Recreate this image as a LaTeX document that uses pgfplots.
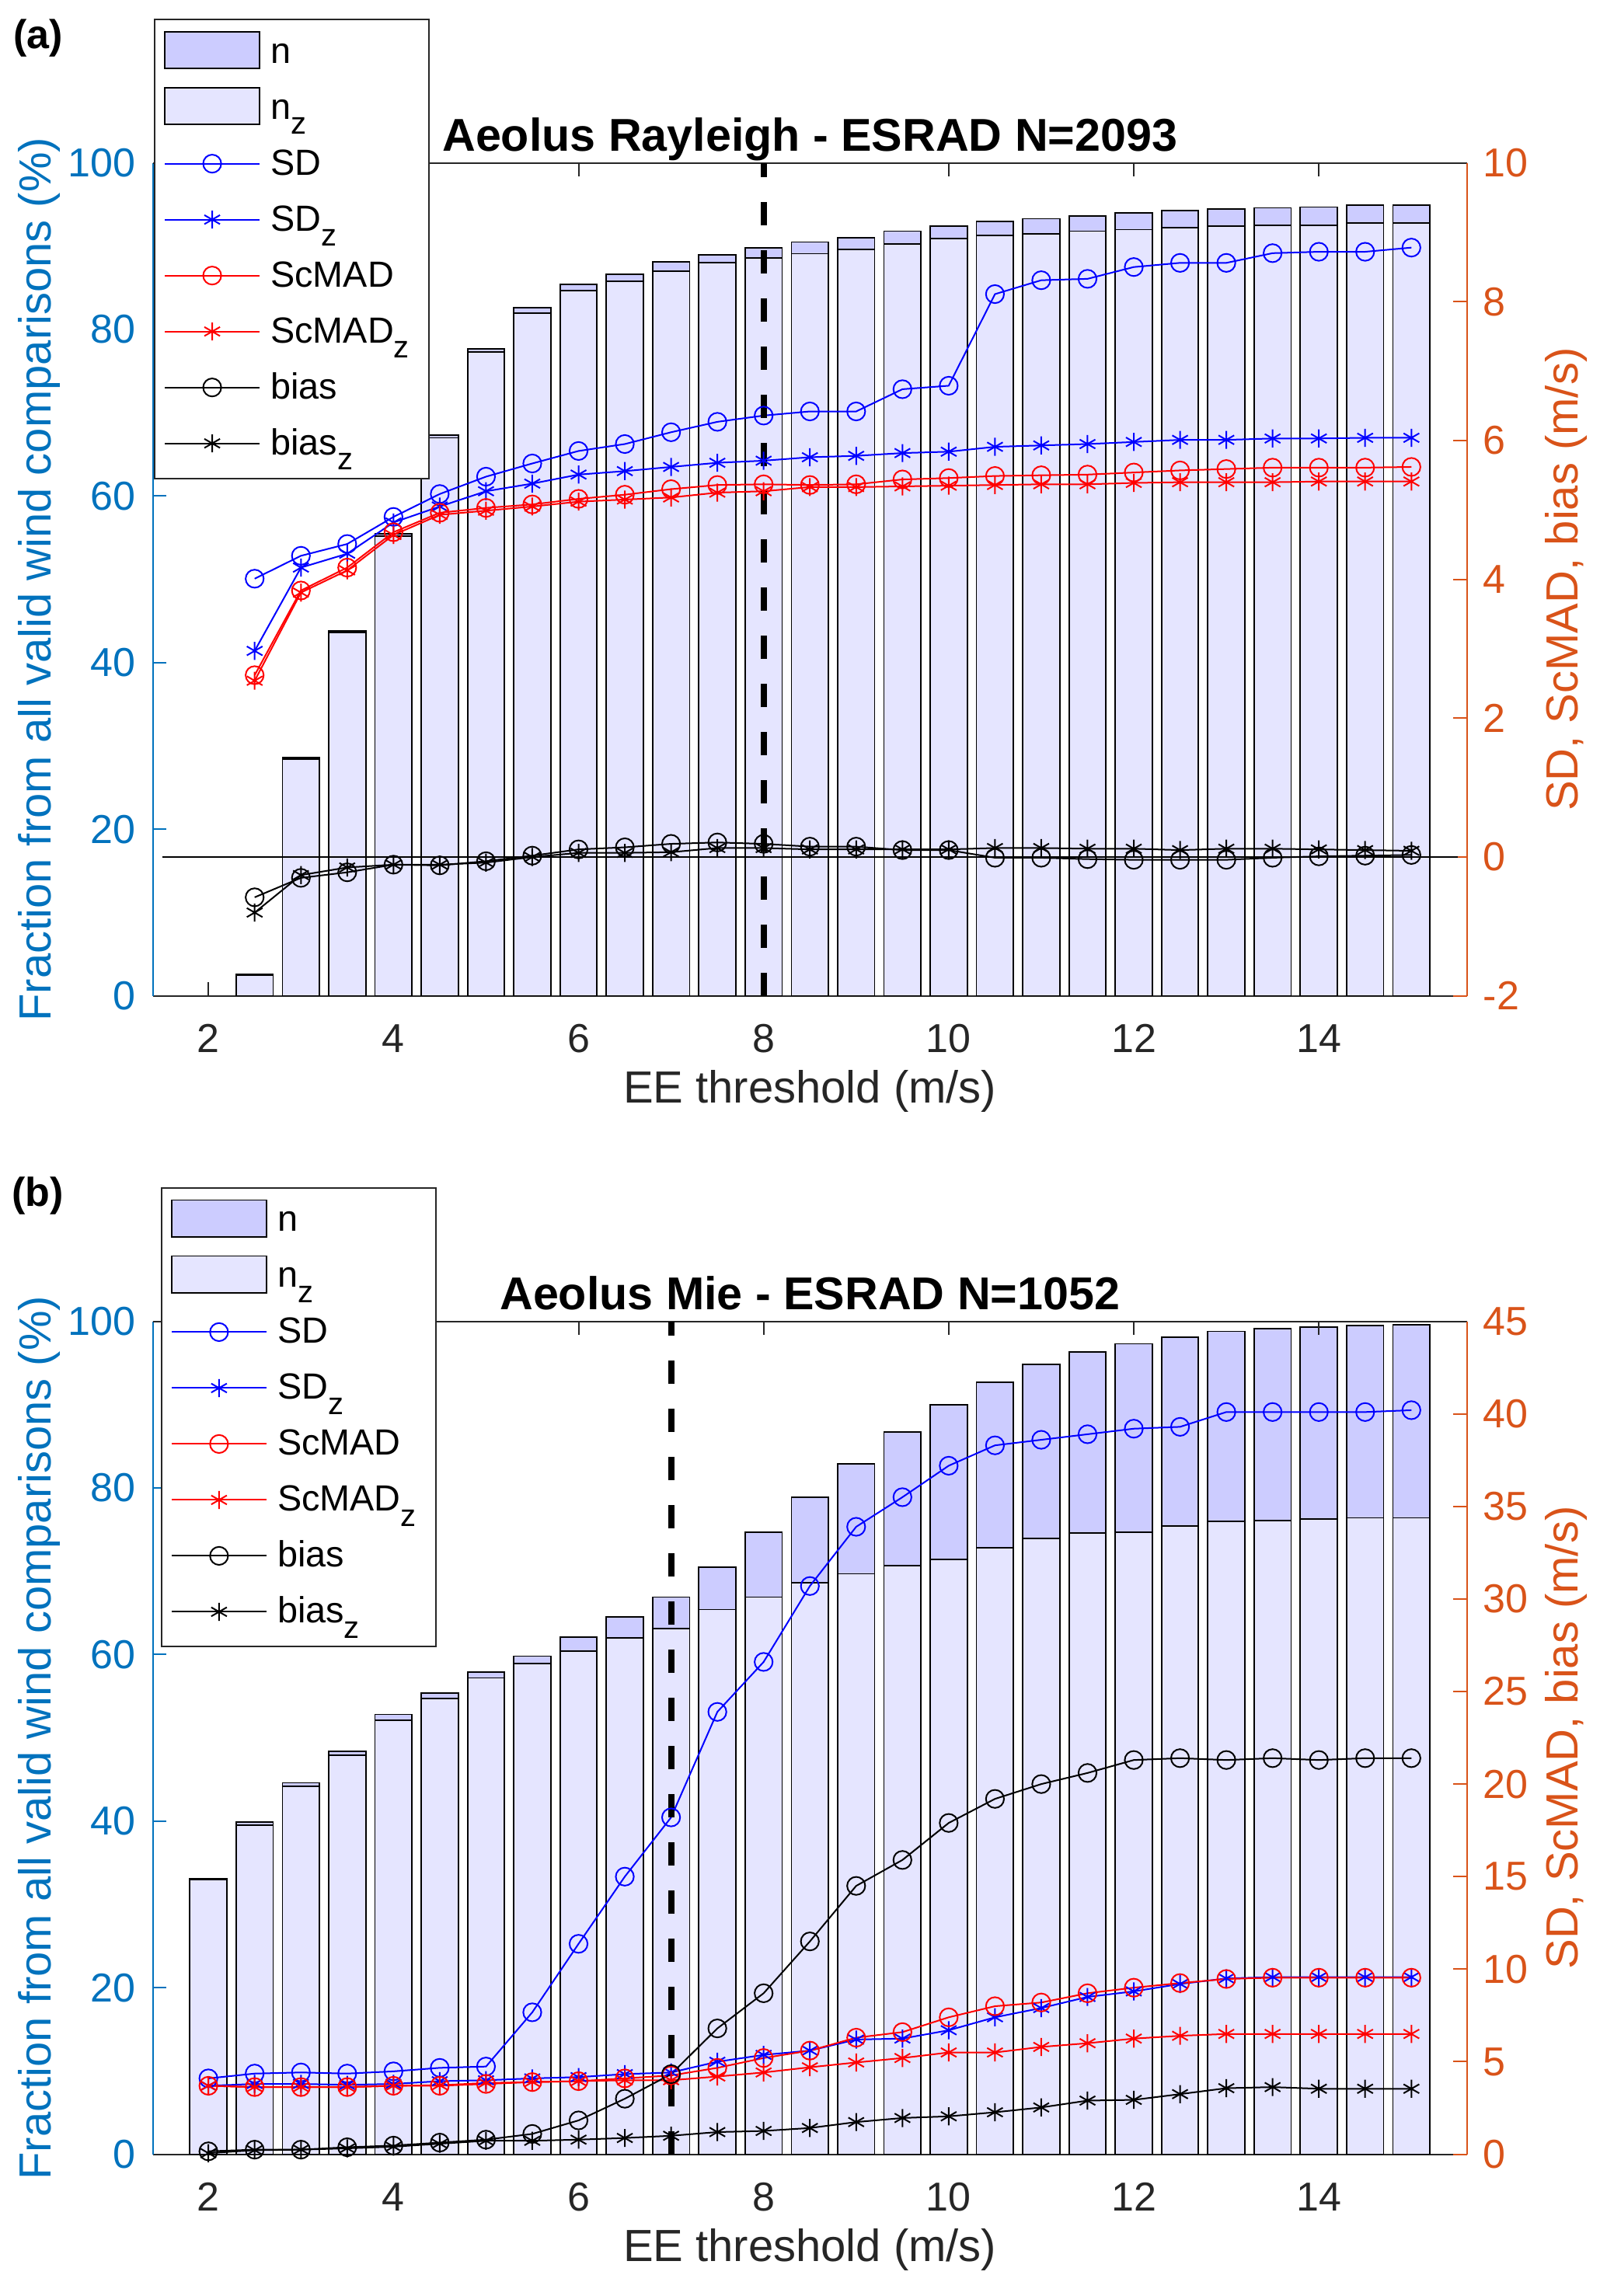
\documentclass[border=0pt]{standalone}
\usepackage{fontspec}
\setmainfont{Liberation Sans}
\usepackage{pgfplots}
\pgfplotsset{compat=1.18}
\usepackage{pgfplotstable}
\definecolor{leftc}{rgb}{0,0.447,0.741}
\definecolor{rightc}{rgb}{0.85,0.325,0.098}
\definecolor{axgray}{rgb}{0.15,0.15,0.15}
\definecolor{nfill}{rgb}{0.8,0.8,1}
\definecolor{nzfill}{rgb}{0.9,0.9,1}

\pgfplotstableread{
x n nz
2.5 2.55 2.45
3 28.6 28.4
3.5 43.8 43.6
4 55.5 55.2
4.5 67.3 67.0
5 77.7 77.3
5.5 82.6 82.0
6 85.4 84.7
6.5 86.6 85.8
7 88.1 87.0
7.5 89.0 88.0
8 89.8 88.6
8.5 90.5 89.1
9 91.0 89.6
9.5 91.8 90.3
10 92.4 90.9
10.5 93.0 91.3
11 93.3 91.5
11.5 93.6 91.8
12 94.0 92.0
12.5 94.3 92.2
13 94.5 92.4
13.5 94.6 92.5
14 94.7 92.5
14.5 94.9 92.8
15 94.9 92.8
}\barsA

\pgfplotstableread{
x sd sdz sc scz b bz
2.5 4.01 2.97 2.62 2.54 -0.58 -0.80
3 4.34 4.17 3.84 3.81 -0.30 -0.26
3.5 4.51 4.37 4.17 4.13 -0.22 -0.15
4 4.90 4.82 4.68 4.64 -0.11 -0.11
4.5 5.23 5.05 4.96 4.93 -0.12 -0.11
5 5.48 5.27 5.03 4.99 -0.06 -0.08
5.5 5.67 5.38 5.08 5.05 0.02 0.00
6 5.85 5.51 5.16 5.12 0.11 0.06
6.5 5.95 5.56 5.22 5.15 0.14 0.06
7 6.12 5.62 5.30 5.18 0.19 0.07
7.5 6.27 5.68 5.36 5.25 0.21 0.13
8 6.36 5.71 5.37 5.27 0.19 0.13
8.5 6.42 5.76 5.36 5.33 0.15 0.11
9 6.42 5.78 5.37 5.33 0.15 0.11
9.5 6.74 5.82 5.44 5.34 0.10 0.11
10 6.79 5.84 5.46 5.35 0.10 0.11
10.5 8.11 5.91 5.49 5.36 -0.01 0.13
11 8.31 5.93 5.50 5.37 -0.01 0.13
11.5 8.33 5.95 5.51 5.37 -0.03 0.12
12 8.50 5.98 5.54 5.39 -0.04 0.12
12.5 8.56 6.01 5.57 5.40 -0.04 0.10
13 8.56 6.01 5.59 5.40 -0.04 0.12
13.5 8.70 6.03 5.61 5.40 -0.01 0.12
14 8.72 6.03 5.61 5.41 0.01 0.11
14.5 8.72 6.04 5.61 5.41 0.02 0.10
15 8.78 6.04 5.62 5.41 0.03 0.09
}\linesA

\pgfplotstableread{
x n nz
2 33.1 33.0
2.5 39.9 39.5
3 44.6 44.2
3.5 48.4 47.9
4 52.8 52.1
4.5 55.4 54.7
5 57.9 57.2
5.5 59.8 58.9
6 62.1 60.4
6.5 64.5 62.0
7 66.9 63.1
7.5 70.5 65.4
8 74.7 66.9
8.5 78.9 68.6
9 82.9 69.7
9.5 86.7 70.7
10 90.0 71.4
10.5 92.7 72.8
11 94.8 73.9
11.5 96.3 74.6
12 97.3 74.7
12.5 98.1 75.4
13 98.8 76.0
13.5 99.1 76.1
14 99.3 76.3
14.5 99.5 76.4
15 99.6 76.4
}\barsB

\pgfplotstableread{
x sd sdz sc scz b bz
2 4.10 3.70 3.70 3.70 0.16 0.06
2.5 4.36 3.80 3.63 3.63 0.25 0.22
3 4.42 3.80 3.63 3.63 0.25 0.25
3.5 4.36 3.75 3.63 3.63 0.38 0.32
4 4.48 3.80 3.70 3.70 0.47 0.41
4.5 4.67 3.95 3.70 3.73 0.63 0.57
5 4.74 4.00 3.80 3.85 0.79 0.73
5.5 7.67 4.10 3.90 3.90 1.10 0.73
6 11.37 4.17 3.95 3.95 1.83 0.79
6.5 15.00 4.33 4.10 4.00 3.00 0.88
7 18.20 4.42 4.26 4.00 4.33 1.00
7.5 23.90 5.00 4.67 4.20 6.80 1.20
8 26.60 5.37 5.20 4.42 8.70 1.26
8.5 30.70 5.60 5.60 4.70 11.50 1.42
9 33.90 6.20 6.30 4.96 14.50 1.74
9.5 35.50 6.25 6.60 5.20 15.90 1.96
10 37.20 6.70 7.40 5.50 17.90 2.05
10.5 38.30 7.40 8.00 5.50 19.20 2.27
11 38.60 7.90 8.20 5.80 20.00 2.53
11.5 38.90 8.50 8.70 6.00 20.60 2.90
12 39.20 8.80 9.00 6.25 21.30 2.94
12.5 39.30 9.20 9.25 6.40 21.40 3.25
13 40.10 9.50 9.47 6.50 21.30 3.57
13.5 40.10 9.57 9.54 6.50 21.40 3.63
14 40.10 9.57 9.54 6.50 21.30 3.54
14.5 40.10 9.57 9.54 6.50 21.40 3.54
15 40.20 9.57 9.54 6.50 21.40 3.54
}\linesB

\newcommand{\zs}{\raisebox{-4.8pt}{\fontsize{10}{10}\selectfont z}}

\pgfplotsset{
  base/.style={
    scale only axis, width=422.75pt, height=268pt,
    xmin=1.4, xmax=15.6, xtick={2,4,...,14},
    tick align=inside, major tick length=4.4pt,
    /pgf/number format/assume math mode=true,
    tick label style={font=\fontsize{13}{13}\selectfont},
    label style={font=\fontsize{14.5}{14.5}\selectfont},
    every tick/.append style={line width=0.5pt},
    axis line style={line width=0.5pt},
  },
  leftax/.style={
    base, axis y line*=left, axis x line*=bottom,
    ymin=0, ymax=100, ytick={0,20,...,100},
    y axis line style={leftc,-}, ytick style={leftc},
    yticklabel style={leftc, anchor=east, inner sep=0pt, xshift=-5.4pt},
    x axis line style={axgray,-}, xtick style={axgray},
    xticklabel style={axgray, anchor=base, inner sep=0pt, yshift=-18.25pt},
    ylabel={Fraction from all valid wind comparisons (\%)},
    ylabel style={leftc, at={(axis description cs:-0.0775,0.5)}, anchor=base},
    xlabel={EE threshold (m/s)},
    xlabel style={axgray, at={(axis description cs:0.5,-0.1287)}, anchor=base},
  },
  rightax/.style={
    base, axis y line*=right, axis x line*=top,
    xticklabels={}, xtick style={axgray}, x axis line style={axgray,-},
    y axis line style={rightc,-}, ytick style={rightc},
    yticklabel style={rightc, anchor=west, inner sep=0pt, xshift=5.1pt},
    ylabel={SD, ScMAD, bias (m/s)},
    ylabel style={rightc, at={(axis description cs:1.0842,0.5)}, anchor=base},
    title style={at={(axis description cs:0.5,0.9916)}, anchor=base, font=\bfseries\fontsize{14.8}{14.8}\selectfont},
    legend cell align=left,
    legend image code/.code={\draw[mark repeat=2,mark phase=2] plot coordinates {(0pt,3.6pt) (15.25pt,3.6pt) (30.5pt,3.6pt)};},
    legend style={anchor=north west, draw=axgray, line width=0.5pt, fill=white,
      font=\fontsize{11.7}{11.7}\selectfont, inner xsep=3pt, inner ysep=2.8pt, row sep=2.05pt,
      nodes={inner xsep=3.3pt, inner ysep=1pt, text height=10.1pt, text depth=3.85pt, anchor=base west}},
  },
  barn/.style={ybar, bar width=0.4, bar shift=0pt, fill=nfill, draw=black, line width=0.45pt},
  barnz/.style={ybar, bar width=0.4, bar shift=0pt, fill=nzfill, draw=black, line width=0.45pt},
  pc/.style={line width=0.5pt, mark=o, mark size=2.9pt, mark options={solid}},
  ps/.style={line width=0.5pt, mark=asterisk, mark size=2.9pt, mark options={solid}},
  patchn/.style={fill=nfill, draw=black, line width=0.45pt, legend image code/.code={\draw[##1] (0pt,-1.7pt) rectangle (30.5pt,10.1pt);}},
  patchnz/.style={fill=nzfill, draw=black, line width=0.45pt, legend image code/.code={\draw[##1] (0pt,-1.7pt) rectangle (30.5pt,10.1pt);}},
}

\begin{document}
\begin{tikzpicture}
\path[use as bounding box] (0,0) rectangle (516.75pt,738.75pt);

% ---------- panel (a) ----------
\begin{axis}[leftax, at={(49.18pt,418.32pt)}, anchor=south west]
\addplot[barn] table[x=x,y=n] {\barsA};
\addplot[barnz] table[x=x,y=nz] {\barsA};
\end{axis}
\begin{axis}[rightax, at={(49.18pt,418.32pt)}, anchor=south west,
  ymin=-2, ymax=10, ytick={-2,0,...,10},
  title={Aeolus Rayleigh - ESRAD N=2093},
  legend style={at={(axis description cs:0.0008,1.1728)}}]
\addlegendimage{patchn}\addlegendentry{n}
\addlegendimage{patchnz}\addlegendentry{n\zs}
\addplot[black, line width=0.5pt, forget plot] coordinates {(1.5,0) (15.5,0)};
\addplot[blue, pc] table[x=x,y=sd] {\linesA}; \addlegendentry{SD}
\addplot[blue, ps] table[x=x,y=sdz] {\linesA}; \addlegendentry{SD\zs}
\addplot[red, pc] table[x=x,y=sc] {\linesA}; \addlegendentry{ScMAD}
\addplot[red, ps] table[x=x,y=scz] {\linesA}; \addlegendentry{ScMAD\zs}
\addplot[black, pc] table[x=x,y=b] {\linesA}; \addlegendentry{bias}
\addplot[black, ps] table[x=x,y=bz] {\linesA}; \addlegendentry{bias\zs}
\addplot[black, line width=2pt, dash pattern=on 7.5pt off 8pt, forget plot] coordinates {(8,-2) (8,10)};
\end{axis}
\node at (12.2pt,726.5pt) {\bfseries\fontsize{13}{13}\selectfont (a)};

% ---------- panel (b) ----------
\begin{axis}[leftax, at={(49.18pt,45.6pt)}, anchor=south west]
\addplot[barn] table[x=x,y=n] {\barsB};
\addplot[barnz] table[x=x,y=nz] {\barsB};
\end{axis}
\begin{axis}[rightax, at={(49.18pt,45.6pt)}, anchor=south west,
  ymin=0, ymax=45, ytick={0,5,...,45},
  title={Aeolus Mie - ESRAD N=1052},
  legend style={at={(axis description cs:0.006,1.1608)}}]
\addlegendimage{patchn}\addlegendentry{n}
\addlegendimage{patchnz}\addlegendentry{n\zs}
\addplot[blue, pc] table[x=x,y=sd] {\linesB}; \addlegendentry{SD}
\addplot[blue, ps] table[x=x,y=sdz] {\linesB}; \addlegendentry{SD\zs}
\addplot[red, pc] table[x=x,y=sc] {\linesB}; \addlegendentry{ScMAD}
\addplot[red, ps] table[x=x,y=scz] {\linesB}; \addlegendentry{ScMAD\zs}
\addplot[black, pc] table[x=x,y=b] {\linesB}; \addlegendentry{bias}
\addplot[black, ps] table[x=x,y=bz] {\linesB}; \addlegendentry{bias\zs}
\addplot[black, line width=2pt, dash pattern=on 7.5pt off 8pt, forget plot] coordinates {(7,0) (7,45)};
\end{axis}
\node at (12.2pt,353.9pt) {\bfseries\fontsize{13}{13}\selectfont (b)};
\end{tikzpicture}
\end{document}
